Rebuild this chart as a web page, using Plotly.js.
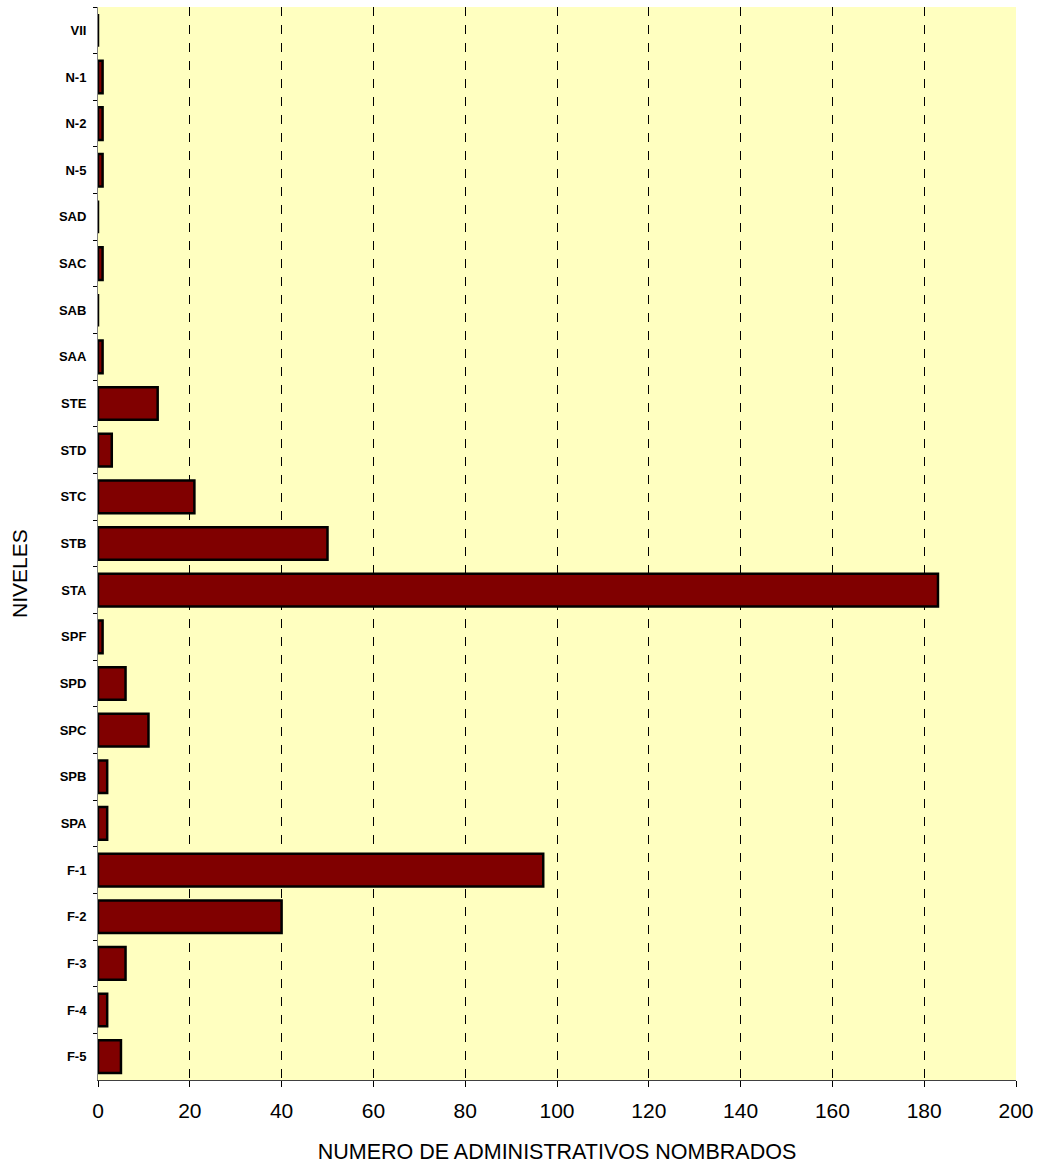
<!DOCTYPE html>
<html>
<head>
<meta charset="utf-8">
<script src="https://cdn.plot.ly/plotly-3.0.1.min.js"></script>
<style>html,body{margin:0;padding:0;background:#fff;}#chart{width:1040px;height:1164px;}</style>
</head>
<body>
<div id="chart"></div>
<script>
var niveles = ["VII","N-1","N-2","N-5","SAD","SAC","SAB","SAA","STE","STD","STC","STB","STA","SPF","SPD","SPC","SPB","SPA","F-1","F-2","F-3","F-4","F-5"];
var nombrados = [0,1,1,1,0,1,0,1,13,3,21,50,183,1,6,11,2,2,97,40,6,2,5];
var xTicks = [0,20,40,60,80,100,120,140,160,180,200];

var trace = {
  type: "bar",
  orientation: "h",
  y: niveles,
  x: nombrados,
  marker: {color: "#800000", line: {color: "#000000", width: 2.5}},
  hoverinfo: "x+y"
};

var layout = {
  width: 1040,
  height: 1164,
  margin: {l: 98, r: 24, t: 7, b: 84},
  paper_bgcolor: "#ffffff",
  plot_bgcolor: "#FFFFC0",
  bargap: 0.3,
  showlegend: false,
  font: {family: "Arial, 'Liberation Sans', sans-serif", color: "#000"},
  xaxis: {
    range: [0, 200],
    tickvals: xTicks,
    ticktext: xTicks.map(String),
    showgrid: true,
    gridcolor: "#000000",
    gridwidth: 1,
    griddash: "dash",
    zeroline: false,
    showline: true,
    linecolor: "#404040",
    linewidth: 1,
    ticks: "outside",
    ticklen: 6,
    tickcolor: "#000000",
    tickfont: {size: 21, family: "Arial, 'Liberation Sans', sans-serif"},
    ticklabelstandoff: 6,
    title: {text: "NUMERO DE ADMINISTRATIVOS NOMBRADOS", font: {size: 21.5}, standoff: 23}
  },
  yaxis: {
    type: "category",
    autorange: "reversed",
    showgrid: false,
    zeroline: false,
    showline: true,
    linecolor: "#808080",
    linewidth: 1,
    ticks: "outside",
    tickson: "boundaries",
    ticklen: 4,
    tickcolor: "#000000",
    tickfont: {size: 13, family: "Arial, 'Liberation Sans', sans-serif", weight: "bold"},
    ticklabelstandoff: 8
  },
  annotations: [{
    text: "NIVELES",
    textangle: -90,
    xref: "paper", yref: "paper",
    x: -0.0861, y: 0.4725,
    xanchor: "center", yanchor: "middle",
    showarrow: false,
    font: {size: 21}
  }]
};

Plotly.newPlot("chart", [trace], layout, {displayModeBar: false, staticPlot: true});
</script>
</body>
</html>
